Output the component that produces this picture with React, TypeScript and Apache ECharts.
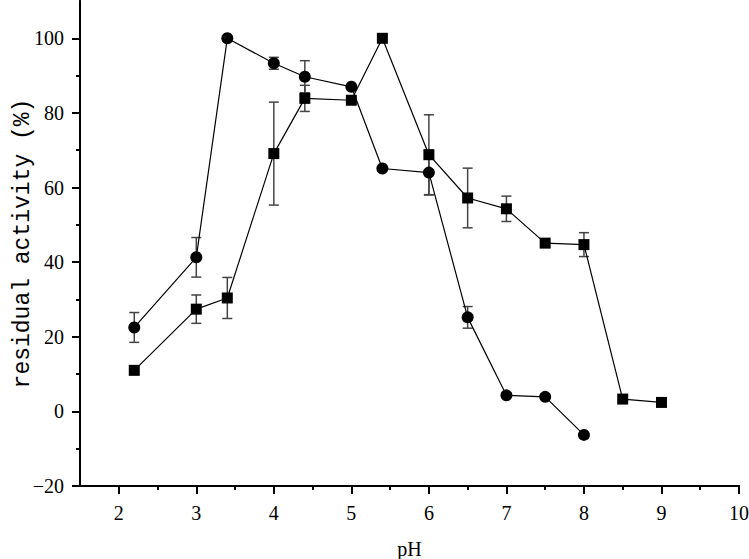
import React, { useEffect, useRef } from "react";
import * as echarts from "echarts";

const circlePH = [2.2, 3, 3.4, 4, 4.4, 5, 5.4, 6, 6.5, 7, 7.5, 8];
const circleActivity = [22.5, 41.3, 100, 93.3, 89.7, 87.0, 65.1, 64.0, 25.2, 4.3, 3.9, -6.3];
const circleError = [4.0, 5.3, 0, 1.6, 4.3, 0, 0, 6.0, 2.9, 0, 0, 0];

const squarePH = [2.2, 3, 3.4, 4, 4.4, 5, 5.4, 6, 6.5, 7, 7.5, 8, 8.5, 9];
const squareActivity = [11.0, 27.4, 30.4, 69.1, 83.9, 83.4, 100, 68.8, 57.2, 54.3, 45.1, 44.7, 3.3, 2.4];
const squareError = [0, 3.8, 5.5, 13.8, 3.5, 0, 0, 10.7, 8.0, 3.4, 0, 3.2, 0, 0];

const xMajorTicks = [2, 3, 4, 5, 6, 7, 8, 9, 10];
const xMinorTicks = [2.5, 3.5, 4.5, 5.5, 6.5, 7.5, 8.5, 9.5];
const yMajorTicks = [-20, 0, 20, 40, 60, 80, 100];
const yMinorTicks = [-10, 10, 30, 50, 70, 90];

const serif = "'Liberation Serif', serif";

function errorData(xs: number[], ys: number[], es: number[]) {
  return xs.map((x, i) => [x, ys[i], es[i]]);
}

const renderError = (params: any, api: any) => {
  const x = api.value(0);
  const y = api.value(1);
  const e = api.value(2);
  if (!e) return null;
  const top = api.coord([x, y + e]);
  const bot = api.coord([x, y - e]);
  const hw = 5;
  const style = { stroke: "#444", lineWidth: 1.5 };
  return {
    type: "group",
    children: [
      { type: "line", shape: { x1: top[0], y1: top[1], x2: bot[0], y2: bot[1] }, style },
      { type: "line", shape: { x1: top[0] - hw, y1: top[1], x2: top[0] + hw, y2: top[1] }, style },
      { type: "line", shape: { x1: bot[0] - hw, y1: bot[1], x2: bot[0] + hw, y2: bot[1] }, style },
    ],
  };
};

const mkLine = () => ({ show: true, onZero: false, lineStyle: { color: "#000", width: 2 } });
const mkTick = (len: number, values: number[]) => ({
  show: true,
  length: len,
  lineStyle: { color: "#000", width: 2 },
  customValues: values,
});

export default function App() {
  const ref = useRef<HTMLDivElement>(null);
  useEffect(() => {
    if (!ref.current) return;
    const chart = echarts.init(ref.current, null, { renderer: "svg" });
    chart.setOption({
      animation: false,
      backgroundColor: "#fff",
      textStyle: { fontFamily: serif },
      grid: { left: 80, right: 10, top: 1, bottom: 73, outerBoundsMode: "none" },
      xAxis: [
        {
          type: "value",
          position: "bottom",
          min: 1.5,
          max: 10,
          axisLine: mkLine(),
          splitLine: { show: false },
          axisTick: mkTick(8, xMajorTicks),
          axisLabel: {
            show: true,
            customValues: xMajorTicks,
            margin: 17,
            color: "#000",
            fontFamily: serif,
            fontSize: 20,
          },
          name: "pH",
          nameLocation: "middle",
          nameGap: 53,
          nameMoveOverlap: false,
          nameTextStyle: { color: "#000", fontFamily: serif, fontSize: 20 },
        },
        {
          type: "value",
          position: "bottom",
          offset: 0,
          min: 1.5,
          max: 10,
          axisLine: mkLine(),
          splitLine: { show: false },
          axisTick: mkTick(4, xMinorTicks),
          axisLabel: { show: false },
        },
      ],
      yAxis: [
        {
          type: "value",
          position: "left",
          min: -20,
          max: 110,
          axisLine: mkLine(),
          splitLine: { show: false },
          axisTick: mkTick(8, yMajorTicks),
          axisLabel: {
            show: true,
            customValues: yMajorTicks,
            margin: 16,
            color: "#000",
            fontFamily: serif,
            fontSize: 20,
            formatter: (v: number) => (v < 0 ? "\u2212" + Math.abs(v) : String(v)),
          },
          name: "residual activity (%)",
          nameLocation: "middle",
          nameGap: 46,
          nameMoveOverlap: false,
          nameTextStyle: { color: "#000", fontFamily: "'Liberation Mono', monospace", fontSize: 23 },
        },
        {
          type: "value",
          position: "left",
          offset: 0,
          min: -20,
          max: 110,
          axisLine: mkLine(),
          splitLine: { show: false },
          axisTick: mkTick(4, yMinorTicks),
          axisLabel: { show: false },
        },
      ],
      series: [
        {
          type: "custom",
          xAxisIndex: 0,
          yAxisIndex: 0,
          z: 1,
          renderItem: renderError,
          data: errorData(circlePH, circleActivity, circleError),
          silent: true,
        },
        {
          type: "custom",
          xAxisIndex: 0,
          yAxisIndex: 0,
          z: 1,
          renderItem: renderError,
          data: errorData(squarePH, squareActivity, squareError),
          silent: true,
        },
        {
          type: "line",
          xAxisIndex: 0,
          yAxisIndex: 0,
          z: 3,
          symbol: "circle",
          symbolSize: 12,
          data: circlePH.map((x, i) => [x, circleActivity[i]]),
          lineStyle: { color: "#000", width: 1.2 },
          itemStyle: { color: "#000" },
        },
        {
          type: "line",
          xAxisIndex: 0,
          yAxisIndex: 0,
          z: 3,
          symbol: "rect",
          symbolSize: 11,
          data: squarePH.map((x, i) => [x, squareActivity[i]]),
          lineStyle: { color: "#000", width: 1.2 },
          itemStyle: { color: "#000" },
        },
      ],
    });
    return () => chart.dispose();
  }, []);
  return <div ref={ref} style={{ width: 749, height: 559, position: "fixed", left: 0, top: 0 }} />;
}
